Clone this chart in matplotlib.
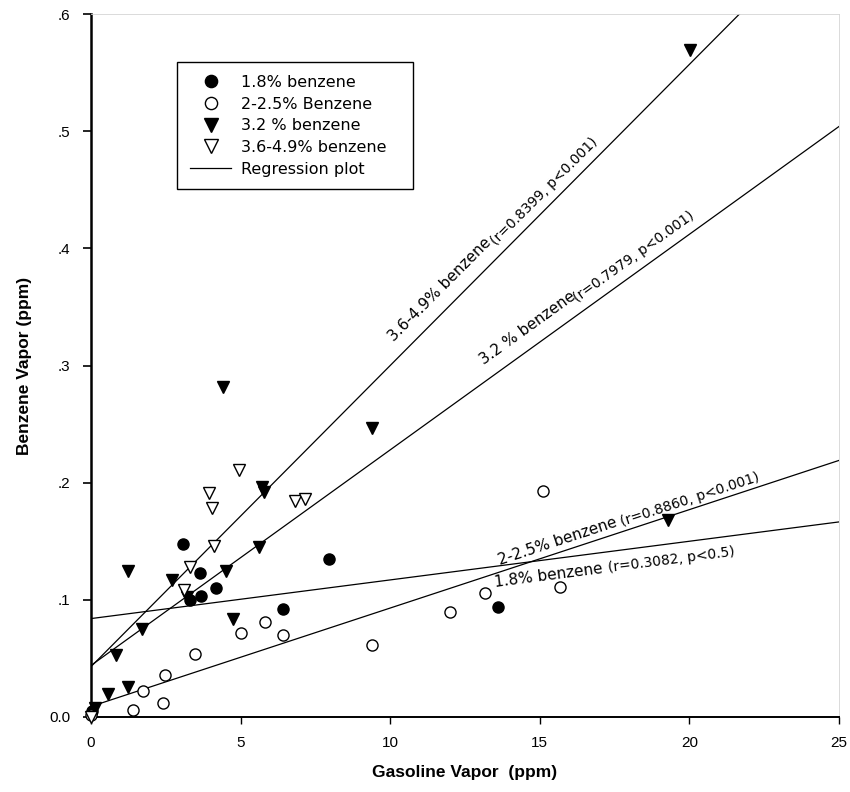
import numpy as np
import matplotlib
matplotlib.use("Agg")
import matplotlib.pyplot as plt
from matplotlib import font_manager

# values (x = gasoline ppm, y = benzene ppm)
x_18 = [0.05, 3.08, 3.63, 4.17, 3.67, 3.30, 7.94, 6.41, 13.60]
y_18 = [0.005, 0.148, 0.123, 0.110, 0.103, 0.100, 0.135, 0.092, 0.094]

x_225 = [0.00, 1.41, 1.74, 2.39, 2.46, 3.47, 5.02, 5.82, 6.41, 9.39, 11.99, 13.16, 15.69, 15.10]
y_225 = [0.002, 0.006, 0.0225, 0.012, 0.036, 0.0535, 0.0713, 0.0807, 0.0703, 0.0615, 0.0895, 0.106, 0.111, 0.1926]

x_32 = [0.15, 0.58, 1.24, 0.83, 1.69, 1.22, 2.71, 3.20, 4.52, 4.74, 5.63, 5.71, 5.77, 4.41, 9.38, 19.30, 20.02]
y_32 = [0.008, 0.020, 0.026, 0.053, 0.075, 0.125, 0.117, 0.102, 0.125, 0.084, 0.145, 0.196, 0.192, 0.282, 0.247, 0.168, 0.569]

x_3649 = [0.00, 3.10, 3.30, 4.11, 3.93, 4.04, 4.94, 6.82, 7.16]
y_3649 = [0.000, 0.1085, 0.128, 0.146, 0.191, 0.178, 0.211, 0.1846, 0.1863]

legend_labels = ["1.8% benzene", "2-2.5% Benzene", "3.2 % benzene", "3.6-4.9% benzene", "Regression plot"]

# regression lines as drawn (intercept, slope)
reg_names = ["1.8% benzene", "2-2.5% benzene", "3.2 % benzene", "3.6-4.9% benzene"]
reg_stats = ["(r=0.3082, p<0.5)", "(r=0.8860, p<0.001)", "(r=0.7979, p<0.001)", "(r=0.8399, p<0.001)"]
reg_intercept = [0.084, 0.009, 0.044, 0.043]
reg_slope = [0.0033, 0.0084, 0.0184, 0.0257]

x_ticks = [0, 5, 10, 15, 20, 25]
y_ticks = [0.0, 0.1, 0.2, 0.3, 0.4, 0.5, 0.6]
y_ticklabels = ["0.0", ".1", ".2", ".3", ".4", ".5", ".6"]

names = {f.name for f in font_manager.fontManager.ttflist}
if "Liberation Sans Narrow" in names:
    axis_font, label_size, tick_size = "Liberation Sans Narrow", 15, 12
else:
    axis_font, label_size, tick_size = "Liberation Sans", 12.5, 11

fig = plt.figure(figsize=(8.5, 7.92), dpi=100)
ax = fig.add_axes([91 / 850, 75 / 792, 748 / 850, 703 / 792])
ax.set_xlim(0, 25)
ax.set_ylim(0, 0.6)

mk = dict(linestyle="none", clip_on=False, zorder=3)
ax.plot(x_18, y_18, marker="o", ms=8, mfc="black", mec="black", label=legend_labels[0], **mk)
ax.plot(x_225, y_225, marker="o", ms=8, mfc="white", mec="black", mew=1.0, label=legend_labels[1], **mk)
ax.plot(x_32, y_32, marker="v", ms=9, mfc="black", mec="black", label=legend_labels[2], **mk)
ax.plot(x_3649, y_3649, marker="v", ms=9, mfc="white", mec="black", mew=1.0, label=legend_labels[3], **mk)

xx = np.array([0, 25])
for i in range(4):
    ax.plot(xx, reg_intercept[i] + reg_slope[i] * xx, color="black", lw=0.9, zorder=2,
            label=legend_labels[4] if i == 0 else None)

# label positions along each line: (x of name, x of stats, offset name, offset stats)
label_pos = [(13.4, 17.2, -14.5, -14.5),
             (13.75, 17.8, 5, 4),
             (13.4, 16.45, 10, 7),
             (10.45, 13.75, 10, 7)]


def along(x0, i, s, d, size):
    y0 = reg_intercept[i] + reg_slope[i] * x0
    p1 = ax.transData.transform((x0, y0))
    p2 = ax.transData.transform((x0 + 1, y0 + reg_slope[i]))
    ang = np.arctan2(p2[1] - p1[1], p2[0] - p1[0])
    ax.annotate(s, xy=(x0, y0), xytext=(-np.sin(ang) * d, np.cos(ang) * d),
                textcoords="offset points", rotation=np.degrees(ang), rotation_mode="anchor",
                ha="left", va="baseline", fontsize=size, family="DejaVu Sans")


for i in range(4):
    xa, xb, da, db = label_pos[i]
    along(xa, i, reg_names[i], da, 11)
    along(xb, i, reg_stats[i], db, 10)

ax.set_xticks(x_ticks)
ax.set_xticklabels([str(v) for v in x_ticks], family=axis_font, fontsize=tick_size)
ax.set_yticks(y_ticks)
ax.set_yticklabels(y_ticklabels, family=axis_font, fontsize=tick_size)
ax.tick_params(axis="y", direction="out", length=6, width=1.2, pad=9)
ax.tick_params(axis="x", direction="out", length=5, width=1, pad=9)

ax.spines["left"].set_linewidth(1.8)
ax.spines["bottom"].set_linewidth(1.4)
for s in ["top", "right"]:
    ax.spines[s].set_color("#d4d4d4")
    ax.spines[s].set_linewidth(0.6)

ax.set_xlabel("Gasoline Vapor  (ppm)", family=axis_font, fontsize=label_size, fontweight="bold")
ax.set_ylabel("Benzene Vapor (ppm)", family=axis_font, fontsize=label_size, fontweight="bold")
ax.xaxis.set_label_coords(0.5, -0.068)
ax.yaxis.set_label_coords(-0.079, 0.5)

leg = ax.legend(loc="upper left", bbox_to_anchor=(0.115, 0.9317, 0.3155, 0), mode="expand",
                borderaxespad=0, fancybox=False, edgecolor="black", framealpha=1,
                prop={"family": "DejaVu Sans", "size": 11.5}, handlelength=2.6,
                handletextpad=0.6, labelspacing=0.42, borderpad=0.8, markerscale=1.1)
leg.get_frame().set_linewidth(1.0)

fig.savefig("out.png", dpi=100)
